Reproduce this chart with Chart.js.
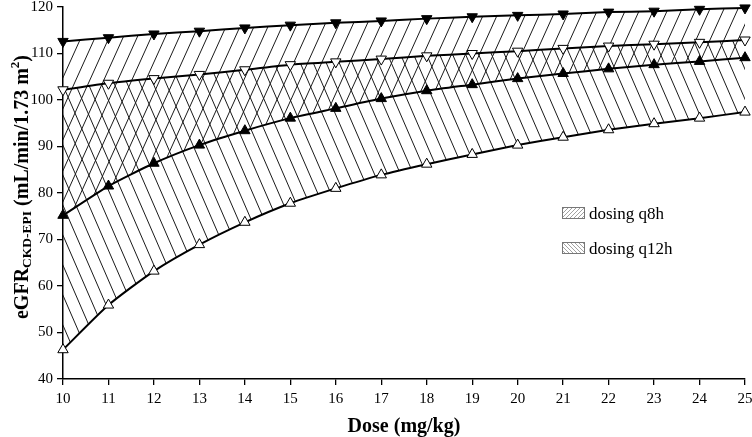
<!DOCTYPE html>
<html>
<head>
<meta charset="utf-8">
<script src="https://cdn.jsdelivr.net/npm/chart.js@4.4.1/dist/chart.umd.min.js"></script>
<style>
html, body { margin: 0; padding: 0; background: #fff; }
canvas { display: block; }
</style>
</head>
<body>
<canvas id="chart" width="752" height="437"></canvas>
<script>
// Dose (mg/kg) on the x axis
const doses = [10, 11, 12, 13, 14, 15, 16, 17, 18, 19, 20, 21, 22, 23, 24, 25];

// eGFR limits
const q8hUpper  = [112.6, 113.4, 114.2, 114.8, 115.5, 116.1, 116.6, 117.0, 117.5, 117.9, 118.2, 118.5, 118.9, 119.1, 119.5, 119.8]; // filled down triangle
const q12hUpper = [102.2, 103.6, 104.6, 105.5, 106.5, 107.6, 108.2, 108.8, 109.5, 110.0, 110.5, 111.1, 111.6, 112.0, 112.4, 112.9]; // open down triangle
const q8hLower  = [75.2, 81.5, 86.4, 90.3, 93.4, 96.1, 98.2, 100.3, 102.0, 103.3, 104.6, 105.7, 106.7, 107.6, 108.3, 109.1];        // filled up triangle
const q12hLower = [46.3, 55.9, 63.2, 68.9, 73.7, 77.8, 81.0, 83.9, 86.2, 88.3, 90.3, 92.0, 93.6, 94.9, 96.1, 97.4];                 // open up triangle

const legendLabels = ['dosing q8h', 'dosing q12h'];

const SERIF = '"Liberation Serif", "Times New Roman", serif';

// hatch patterns for the two dosing bands
function makeHatch(w, h, forward, color, width) {
    const c = document.createElement('canvas');
    c.width = w;
    c.height = h;
    const g = c.getContext('2d');
    g.strokeStyle = color;
    g.lineWidth = width;
    g.beginPath();
    for (let k = -1; k <= 1; k++) {
        if (forward) {
            g.moveTo(k * w, h);
            g.lineTo(k * w + w, 0);
        } else {
            g.moveTo(k * w, 0);
            g.lineTo(k * w + w, h);
        }
    }
    g.stroke();
    return document.getElementById('chart').getContext('2d').createPattern(c, 'repeat');
}

const hatchQ8h = makeHatch(14, 31, true, '#1a1a1a', 1);
const hatchQ12h = makeHatch(13, 30, false, '#1a1a1a', 1);
const legendHatchQ8h = makeHatch(4, 4, true, '#8a8a8a', 0.8);
const legendHatchQ12h = makeHatch(4, 4, false, '#8a8a8a', 0.8);

const toPoints = (values) => values.map((v, i) => ({ x: doses[i], y: v }));

function series(values, filled, down, fill, pattern) {
    return {
        data: toPoints(values),
        borderColor: '#000',
        borderWidth: 2,
        backgroundColor: pattern || 'transparent',
        fill: fill,
        tension: 0.2,
        clip: false,
        pointStyle: 'triangle',
        pointRotation: down ? 180 : 0,
        pointRadius: 6,
        pointBorderWidth: 1,
        pointBorderColor: '#000',
        pointBackgroundColor: filled ? '#000' : '#fff'
    };
}

// titles and legend drawn by hand (the y title needs sub/superscripts)
const annotations = {
    id: 'annotations',
    afterDraw(chart) {
        const ctx = chart.ctx;
        ctx.save();
        ctx.fillStyle = '#000';
        ctx.textBaseline = 'alphabetic';

        // y axis title
        const parts = [
            { t: 'eGFR', size: 20, dy: 0 },
            { t: 'CKD-EPI', size: 13.5, dy: 3 },
            { t: ' (mL/min/1.73 m', size: 20, dy: 0 },
            { t: '2', size: 13, dy: -9 },
            { t: ')', size: 20, dy: 0 }
        ];
        let total = 0;
        parts.forEach(p => {
            ctx.font = `bold ${p.size}px ${SERIF}`;
            p.w = ctx.measureText(p.t).width;
            total += p.w;
        });
        ctx.translate(28, 187 + total / 2);
        ctx.rotate(-Math.PI / 2);
        let x = 0;
        parts.forEach(p => {
            ctx.font = `bold ${p.size}px ${SERIF}`;
            ctx.fillText(p.t, x, p.dy);
            x += p.w;
        });
        ctx.setTransform(1, 0, 0, 1, 0, 0);

        // x axis title
        ctx.font = `bold 20px ${SERIF}`;
        ctx.textAlign = 'center';
        ctx.fillText('Dose (mg/kg)', 404, 432);

        // legend
        ctx.textAlign = 'left';
        ctx.font = `17px ${SERIF}`;
        const boxes = [
            { y: 207, pattern: legendHatchQ8h },
            { y: 242, pattern: legendHatchQ12h }
        ];
        boxes.forEach((b, i) => {
            ctx.fillStyle = b.pattern;
            ctx.fillRect(562, b.y, 23, 12);
            ctx.strokeStyle = '#777';
            ctx.lineWidth = 1;
            ctx.strokeRect(562.5, b.y + 0.5, 22, 11);
            ctx.fillStyle = '#000';
            ctx.fillText(legendLabels[i], 589, b.y + 12);
        });
        ctx.restore();
    }
};

new Chart(document.getElementById('chart'), {
    type: 'line',
    data: {
        datasets: [
            series(q8hUpper, true, true, '+2', hatchQ8h),
            series(q12hUpper, false, true, '+2', hatchQ12h),
            series(q8hLower, true, false, false),
            series(q12hLower, false, false, false)
        ]
    },
    options: {
        responsive: false,
        animation: false,
        devicePixelRatio: 1,
        layout: { padding: { top: 5, right: 7, left: 0, bottom: 0 } },
        plugins: {
            legend: { display: false },
            tooltip: { enabled: false },
            filler: { drawTime: 'beforeDatasetsDraw' }
        },
        scales: {
            x: {
                type: 'linear',
                min: 10,
                max: 25,
                ticks: {
                    stepSize: 1,
                    color: '#000',
                    padding: 5,
                    font: { family: SERIF, size: 15 }
                },
                grid: { drawOnChartArea: false, drawTicks: true, tickLength: 6, color: '#000', lineWidth: 1.3 },
                border: { color: '#000', width: 1.5 },
                afterFit: (s) => {
                    s.height = 58;
                    s.paddingLeft = 0;
                    s.paddingRight = 0;
                }
            },
            y: {
                min: 40,
                max: 120,
                ticks: {
                    stepSize: 10,
                    color: '#000',
                    padding: 4,
                    font: { family: SERIF, size: 15 }
                },
                grid: { drawOnChartArea: false, drawTicks: true, tickLength: 6, color: '#000', lineWidth: 1.3 },
                border: { color: '#000', width: 1.5 },
                afterFit: (s) => {
                    s.width = 63;
                    s.paddingTop = 0;
                    s.paddingBottom = 0;
                }
            }
        }
    },
    plugins: [annotations]
});
</script>
</body>
</html>
